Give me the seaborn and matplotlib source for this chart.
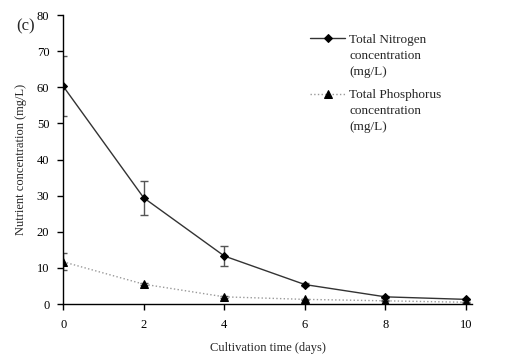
import numpy as np
import pandas as pd
import matplotlib
matplotlib.use('Agg')
import matplotlib.pyplot as plt
import seaborn as sns

# Dados
dias = [0, 2, 4, 6, 8, 10]
nitrogenio = [60.3, 29.4, 13.3, 5.4, 2.0, 1.3]
nitrogenio_err = [8.3, 4.7, 2.7, 0.5, 0.3, 0.2]
fosforo = [11.7, 5.5, 2.0, 1.3, 0.9, 0.5]
fosforo_err = [2.3, 0.3, 0.2, 0.1, 0.1, 0.1]

# primeira linha vai na legenda, o resto é escrito abaixo
rotulo_n = ['Total Nitrogen', 'concentration\n(mg/L)']
rotulo_p = ['Total Phosphorus', 'concentration\n(mg/L)']

sns.set_style('white')
plt.rcParams['font.family'] = ['Liberation Serif', 'DejaVu Serif']

df = pd.DataFrame({'dia': dias, 'N': nitrogenio, 'P': fosforo})

fig = plt.figure(figsize=(5.31, 3.59), dpi=100)
ax = fig.add_axes([0.119, 0.153, 0.77, 0.805])

ax.errorbar(dias, nitrogenio, yerr=nitrogenio_err, fmt='none', ecolor='#555555',
            elinewidth=1, capsize=3, capthick=1, zorder=2)
ax.errorbar(dias, fosforo, yerr=fosforo_err, fmt='none', ecolor='#555555',
            elinewidth=1, capsize=3, capthick=1, zorder=2)

sns.lineplot(data=df, x='dia', y='N', ax=ax, color='#333333', linewidth=1,
             marker='D', markersize=4.5, markerfacecolor='black', markeredgecolor='black',
             label=rotulo_n[0], zorder=3)
sns.lineplot(data=df, x='dia', y='P', ax=ax, color='#999999', linewidth=1,
             linestyle=':', marker='^', markersize=6, markerfacecolor='black',
             markeredgecolor='black', label=rotulo_p[0], zorder=3)

ax.set_xlim(0, 10.15)
ax.set_ylim(0, 80)
ax.set_xticks([0, 2, 4, 6, 8, 10])
ax.set_yticks(range(0, 81, 10))
ax.tick_params(axis='both', direction='out', length=4, width=1, labelsize=9,
               left=True, bottom=True, colors='black')
ax.tick_params(axis='y', pad=6)
ax.tick_params(axis='x', pad=7)
for s in ['top', 'right']:
    ax.spines[s].set_visible(False)
for s in ['left', 'bottom']:
    ax.spines[s].set_color('black')
    ax.spines[s].set_linewidth(1)

ax.set_xlabel('Cultivation time (days)', fontsize=9, labelpad=8)
ax.set_ylabel('Nutrient concentration (mg/L)', fontsize=9, labelpad=7)

leg = ax.legend(loc='upper left', bbox_to_anchor=(0.59, 0.955), frameon=False,
                fontsize=9.5, handlelength=2.7, handletextpad=0.3, labelspacing=3.3,
                borderaxespad=0)

# posicionar o resto do texto depois que a legenda foi desenhada
fig.canvas.draw()
inv = fig.transFigure.inverted()
for t, rot in zip(leg.get_texts(), [rotulo_n, rotulo_p]):
    bb = t.get_window_extent()
    x0, y0 = inv.transform((bb.x0, bb.y0 - 4))
    fig.text(x0, y0, rot[1], ha='left', va='top', fontsize=9.5, linespacing=1.45)

fig.text(0.03, 0.915, '(c)', fontsize=12)

fig.savefig('out.png', dpi=100)
